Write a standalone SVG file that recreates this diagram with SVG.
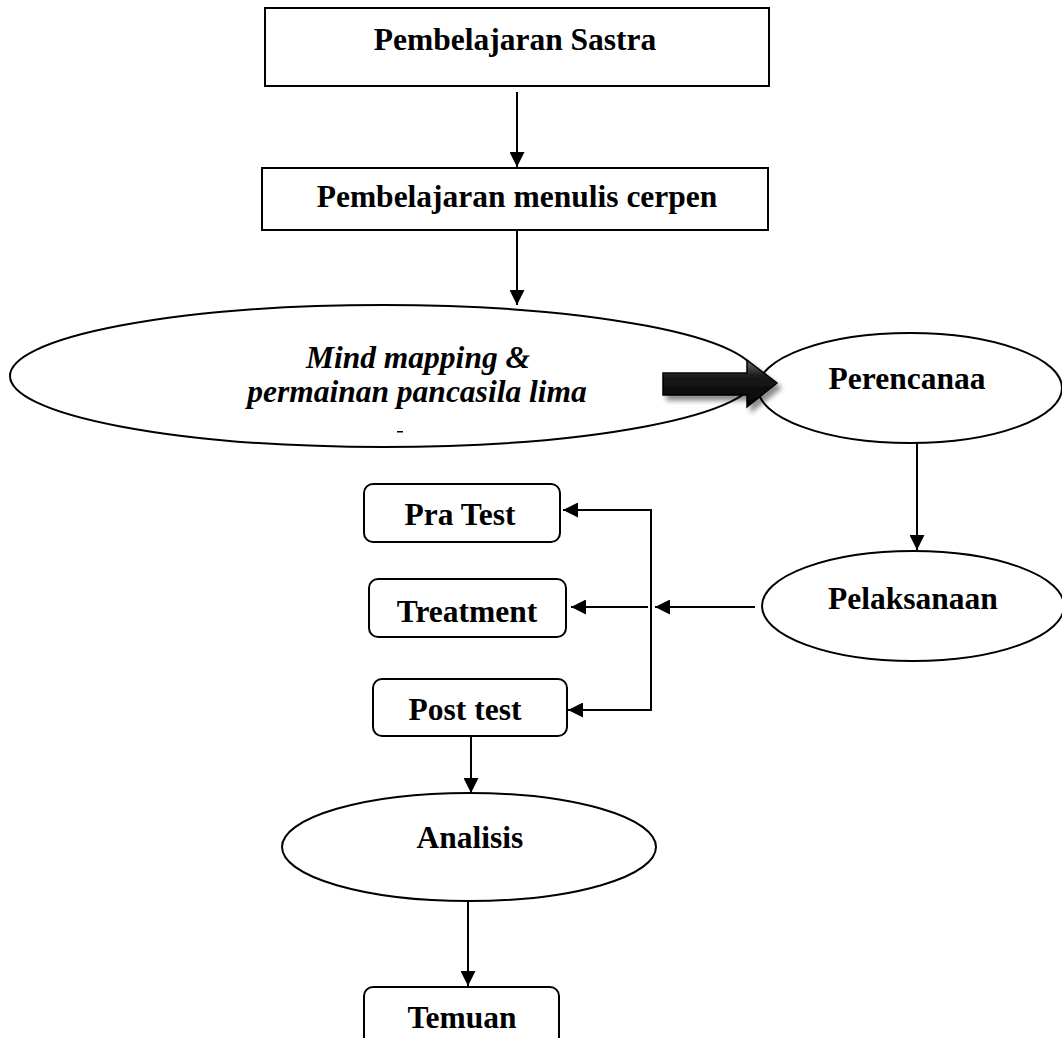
<svg xmlns="http://www.w3.org/2000/svg" width="1062" height="1038" viewBox="0 0 1062 1038">
<defs>
<style>
.shape{fill:#fff;stroke:#000;stroke-width:2}
.lbl{font-family:"Liberation Serif","Times New Roman",serif;font-weight:bold;font-size:31.5px;fill:#000;text-anchor:middle}
.it{font-style:italic}
.ln{stroke:#000;stroke-width:2;fill:none}
</style>
<marker id="ahs" viewBox="0 0 10 10" refX="10" refY="5" markerWidth="15" markerHeight="15" markerUnits="userSpaceOnUse" orient="auto">
<path d="M0,0 L10,5 L0,10 z" fill="#000"/>
</marker>
<linearGradient id="bg" x1="0" y1="0" x2="0" y2="1">
<stop offset="0" stop-color="#6a6a6a"/>
<stop offset="0.35" stop-color="#1a1a1a"/>
<stop offset="1" stop-color="#000"/>
</linearGradient>
<filter id="sh" x="-20%" y="-30%" width="150%" height="180%">
<feGaussianBlur in="SourceAlpha" stdDeviation="2.5"/>
<feOffset dx="4" dy="5" result="o"/>
<feComponentTransfer><feFuncA type="linear" slope="0.45"/></feComponentTransfer>
<feMerge><feMergeNode/><feMergeNode in="SourceGraphic"/></feMerge>
</filter>
</defs>
<rect width="1062" height="1038" fill="#fff"/>

<g id="n-sastra">
<rect class="shape" x="265" y="8" width="504" height="78"/>
<text class="lbl" x="515" y="50">Pembelajaran Sastra</text>
</g>
<g id="n-cerpen">
<rect class="shape" x="262" y="168" width="506" height="62"/>
<text class="lbl" x="517" y="207">Pembelajaran menulis cerpen</text>
</g>
<g id="n-mindmap">
<ellipse class="shape" cx="383" cy="376" rx="373" ry="71"/>
<text class="lbl it" x="418" y="368">Mind mapping &amp;</text>
<text class="lbl it" x="417" y="402">permainan pancasila lima</text>
<rect x="397" y="431" width="6" height="1.5" fill="#000"/>
</g>
<g id="n-perencanaan">
<ellipse class="shape" cx="910" cy="388" rx="152" ry="55"/>
<text class="lbl" x="907" y="389">Perencanaa</text>
</g>
<g id="n-pelaksanaan">
<ellipse class="shape" cx="913" cy="606" rx="151" ry="55"/>
<text class="lbl" x="913" y="609">Pelaksanaan</text>
</g>
<g id="n-pratest">
<rect class="shape" x="364" y="484" width="196" height="58" rx="9"/>
<text class="lbl" x="460" y="525">Pra Test</text>
</g>
<g id="n-treatment">
<rect class="shape" x="369" y="579" width="197" height="58" rx="9"/>
<text class="lbl" x="467" y="622">Treatment</text>
</g>
<g id="n-posttest">
<rect class="shape" x="373" y="679" width="194" height="57" rx="9"/>
<text class="lbl" x="465" y="720">Post test</text>
</g>
<g id="n-analisis">
<ellipse class="shape" cx="469" cy="847" rx="187" ry="54"/>
<text class="lbl" x="470" y="848">Analisis</text>
</g>
<g id="n-temuan">
<rect class="shape" x="364" y="987" width="195" height="70" rx="9"/>
<text class="lbl" x="462" y="1028">Temuan</text>
</g>

<g id="connectors">
<line class="ln" x1="517" y1="92" x2="517" y2="167" marker-end="url(#ahs)"/>
<line class="ln" x1="517" y1="231" x2="517" y2="305" marker-end="url(#ahs)"/>
<path d="M663,373 L747,373 L747,360 L777,383 L747,407 L747,395 L663,395 Z" fill="url(#bg)" stroke="#000" stroke-width="1.5" filter="url(#sh)"/>
<line class="ln" x1="917" y1="443" x2="917" y2="550" marker-end="url(#ahs)"/>
<line class="ln" x1="755" y1="607" x2="655" y2="607" marker-end="url(#ahs)"/>
<line class="ln" x1="651" y1="509" x2="651" y2="711"/>
<line class="ln" x1="652" y1="510" x2="563" y2="510" marker-end="url(#ahs)"/>
<line class="ln" x1="648" y1="607" x2="571" y2="607" marker-end="url(#ahs)"/>
<line class="ln" x1="652" y1="710" x2="568" y2="710" marker-end="url(#ahs)"/>
<line class="ln" x1="471" y1="736" x2="471" y2="793" marker-end="url(#ahs)"/>
<line class="ln" x1="468" y1="901" x2="468" y2="986" marker-end="url(#ahs)"/>
</g>
</svg>
